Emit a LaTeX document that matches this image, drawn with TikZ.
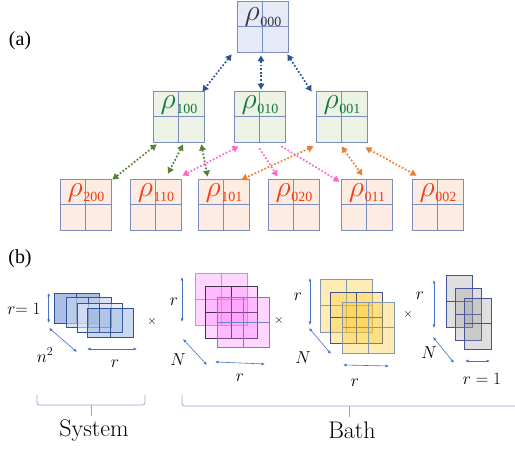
\documentclass[tikz,border=0pt]{standalone}
\usepackage{graphicx}
\usepackage{fontspec}
\newfontfamily\tnr{Liberation Serif}
\usetikzlibrary{arrows.meta,calc}
\definecolor{gridc}{RGB}{125,140,190}
\definecolor{fblue}{RGB}{228,234,246}
\definecolor{fgreen}{RGB}{236,243,228}
\definecolor{forange}{RGB}{252,236,226}
\definecolor{tgrey}{RGB}{55,55,60}
\definecolor{tgreen}{RGB}{20,120,60}
\definecolor{tred}{RGB}{245,60,20}
\definecolor{abl}{RGB}{47,85,151}
\definecolor{agr}{RGB}{84,130,53}
\definecolor{apk}{RGB}{255,102,204}
\definecolor{aor}{RGB}{237,125,49}
\definecolor{dimc}{RGB}{68,114,196}
\definecolor{brc}{RGB}{143,170,220}
\definecolor{sysf}{RGB}{68,114,196}
\definecolor{sysf2}{RGB}{196,210,236}
\definecolor{sysf3}{RGB}{222,230,245}
\definecolor{sysd}{RGB}{47,85,151}
\definecolor{pkf}{RGB}{255,120,255}
\definecolor{pkd1}{RGB}{143,170,220}
\definecolor{pkd2}{RGB}{70,50,80}
\definecolor{pkd3}{RGB}{110,130,200}
\definecolor{ylf}{RGB}{255,200,40}
\definecolor{yld1}{RGB}{132,151,176}
\definecolor{yld2}{RGB}{68,84,130}
\definecolor{gyf}{RGB}{150,150,150}
\definecolor{gyd}{RGB}{68,84,150}

\tikzset{
 rbox/.style={draw=gridc, line width=0.8pt, minimum size=51pt, inner sep=0pt},
 rlbl/.style={anchor=base, inner sep=0pt},
 link/.style={line width=1.7pt, dash pattern=on 1.7pt off 1.9pt,
   {Triangle[length=6pt,width=6.5pt]}-{Triangle[length=6pt,width=6.5pt]}},
 linkone/.style={line width=1.7pt, dash pattern=on 1.7pt off 1.9pt,
   -{Triangle[length=6pt,width=6.5pt]}},
 dimarrow/.style={draw=dimc, line width=0.6pt,
   {Latex[length=3.5pt,width=3pt]}-{Latex[length=3.5pt,width=3pt]}},
 bracepath/.style={draw=brc, line width=0.7pt},
 mlbl/.style={font=\fontsize{17}{17}\selectfont, inner sep=0pt},
 tlbl/.style={font=\fontsize{24}{24}\selectfont, inner sep=0pt},
 crossop/.style={font=\fontsize{13}{13}\selectfont, inner sep=0pt},
 plbl/.style={font=\tnr\fontsize{20}{20}\selectfont, inner sep=0pt},
}

% name, x, y, fill, textcolor, subscript, label y-offset
\newcommand\rhobox[7]{%
 \node[rbox, fill=#4] (#1) at (#2+25.5,#3+25.5) {};
 \draw[draw=gridc, line width=0.8pt] (#1.north) -- (#1.south) (#1.west) -- (#1.east);
 \node[rlbl, text=#5] (#1-l) at (#2+26,#3+17.5+#7)
   {\fontsize{24.88}{25}\selectfont\scalebox{1.2}{$\rho$}\kern0.5pt\raisebox{-5.5pt}{\tnr\fontsize{14}{14}\selectfont #6}};
}
% x1 y1 x2 y2 fill opacity draw
\newcommand\sqfour[7]{%
 \fill[#5, fill opacity=#6] (#1,#2) rectangle (#3,#4);
 \draw[#7, line width=0.7pt] (#1,#2) rectangle (#3,#4)
   ({(#1+#3)/2},#2) -- ({(#1+#3)/2},#4) (#1,{(#2+#4)/2}) -- (#3,{(#2+#4)/2});
}
\newcommand\sqcols[7]{%
 \fill[#5, fill opacity=#6] (#1,#2) rectangle (#3,#4);
 \draw[#7, line width=0.7pt] (#1,#2) rectangle (#3,#4)
   ({(#1+#3)/2},#2) -- ({(#1+#3)/2},#4);
}
\newcommand\sqrows[7]{%
 \fill[#5, fill opacity=#6] (#1,#2) rectangle (#3,#4);
 \draw[#7, line width=0.7pt] (#1,#2) rectangle (#3,#4)
   (#1,{(#2+#4)/2}) -- (#3,{(#2+#4)/2});
}

\begin{document}
\begin{tikzpicture}[x=1pt,y=-1pt]
\useasboundingbox (0,0) rectangle (515,449);

% ---------------- (a) ----------------
\node[plbl] (la) at (20,41) {(a)};

\rhobox{n000}{237}{1}{fblue}{tgrey}{000}{2.5}
\rhobox{n100}{153}{91}{fgreen}{tgreen}{100}{0}
\rhobox{n010}{234}{91}{fgreen}{tgreen}{010}{0}
\rhobox{n001}{316}{91}{fgreen}{tgreen}{001}{0}
\rhobox{n200}{60}{179}{forange}{tred}{200}{0}
\rhobox{n110}{130}{179}{forange}{tred}{110}{0}
\rhobox{n101}{198}{179}{forange}{tred}{101}{0}
\rhobox{n020}{268}{179}{forange}{tred}{020}{0}
\rhobox{n011}{341}{179}{forange}{tred}{011}{0}
\rhobox{n002}{412}{179}{forange}{tred}{002}{0}

% blue links
\draw[link, abl] ($(n000.south west)+(-5,2)$) -- ($(n100.north east)+(-2,1)$);
\draw[link, abl] ($(n000.south)+(-1.5,3)$) -- ($(n010.north)+(1.5,-1)$);
\draw[link, abl] ($(n000.south east)+(-1,2)$) -- ($(n001.north west)+(-4,1)$);
% green links
\draw[link, agr] ($(n100.south west)+(4,2)$) -- ($(n200.north east)+(1,1)$);
\draw[link, agr] ($(n100.south)+(4.5,2)$) -- ($(n110.north)+(12.5,-5)$);
\draw[link, agr] ($(n100.south east)+(-3,2)$) -- ($(n101.north west)+(10,-2)$);
% pink links
\draw[link, apk] ($(n010.south west)+(5,4)$) -- ($(n110.north east)+(1,-3)$);
\draw[linkone, apk] ($(n010.south)+(0,6)$) -- ($(n020.north west)+(10,-2)$);
\draw[linkone, apk] ($(n010.south east)+(-4,4)$) -- ($(n011.north west)+(-1,3)$);
% orange links
\draw[link, aor] ($(n001.south west)+(-2,4)$) -- ($(n101.north east)+(-8,1)$);
\draw[link, aor] ($(n001.south)+(0,4)$) -- ($(n011.north)+(-4,-3)$);
\draw[link, aor] ($(n001.south east)+(-2,5)$) -- ($(n002.north west)+(5,-3)$);

% ---------------- (b) ----------------
\node[plbl] (lb) at (20,259) {(b)};

% system stack
\sqcols{54}{293}{99}{323}{sysf}{0.45}{sysd}
\sqcols{66}{297}{111}{327}{sysf2}{0.65}{sysd}
\sqcols{77}{303}{122}{332}{sysf3}{0.6}{sysd}
\sqcols{87}{308}{133}{337}{sysf}{0.28}{sysd}
\draw[dimarrow] (48.7,293) -- (48.7,323);
\draw[dimarrow] (49,328) -- (77,352);
\draw[dimarrow] (87,349) -- (137,349);
\node[mlbl] (sr1) at (24,309) {$r{=}\;1$};
\node[mlbl] (sn2) at (45,355) {$n^2$};
\node[mlbl] (sr) at (115,364) {$r$};
\node[crossop] (x1) at (152,322) {$\times$};

% pink stack
\sqfour{195}{273}{247}{325}{pkf}{0.3}{pkd1}
\sqfour{205}{286}{257}{338}{pkf}{0.3}{pkd2}
\sqfour{217}{297}{269}{347}{pkf}{0.3}{pkd3}
\draw[dimarrow] (182,277) -- (182,322);
\draw[dimarrow] (183,339) -- (207,365);
\draw[dimarrow] (215,362) -- (265,364);
\node[mlbl] (pr1) at (174,302) {$r$};
\node[mlbl] (pn) at (178,360) {$N$};
\node[mlbl] (pr2) at (240,378) {$r$};
\node[crossop] (x2) at (279,321) {$\times$};

% yellow stack
\sqfour{320}{279}{372}{332}{ylf}{0.35}{yld1}
\sqfour{330}{292}{382}{343}{ylf}{0.35}{yld2}
\sqfour{342}{302}{394}{353}{ylf}{0.35}{yld1}
\draw[dimarrow] (310,278) -- (310,325);
\draw[dimarrow] (309,328) -- (331,354);
\draw[dimarrow] (343,365) -- (389,366);
\node[mlbl] (yr1) at (298,297) {$r$};
\node[mlbl] (yn) at (303,358) {$N$};
\node[mlbl] (yr2) at (355,383) {$r$};
\node[crossop] (x3) at (408,315) {$\times$};

% grey stack
\sqrows{446}{275}{472}{327}{gyf}{0.3}{gyd}
\sqrows{455}{288}{481}{340}{gyf}{0.3}{gyd}
\sqrows{464}{298}{491}{349}{gyf}{0.3}{gyd}
\draw[dimarrow] (434,280) -- (434,328);
\draw[dimarrow] (433,337) -- (454,363);
\draw[dimarrow] (465,361) -- (490,361);
\node[mlbl] (gr1) at (420,296) {$r$};
\node[mlbl] (gn) at (429,353) {$N$};
\node[mlbl] (gr2) at (482,379) {$r = 1$};

% braces
\draw[bracepath, rounded corners=2.5pt] (37,395) |- (145,405) -- (145,395);
\draw[bracepath] (91,405) -- (91,416);
\node[tlbl] (sys) at (94,431) {System};
\draw[bracepath, rounded corners=2.5pt] (182,395) |- (520,406);
\draw[bracepath] (349,406) -- (349,417);
\node[tlbl] (bath) at (352,430) {Bath};
\end{tikzpicture}
\end{document}
